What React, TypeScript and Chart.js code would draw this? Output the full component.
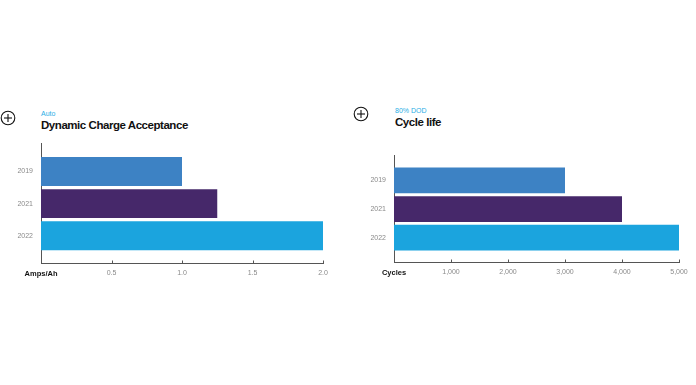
import React, { useEffect, useRef } from "react";
import { Chart, registerables } from "chart.js";

Chart.register(...registerables);

const years = ["2019", "2021", "2022"];
const chargeAcceptance = [1.0, 1.25, 2.0];
const cycleLife = [3000, 4000, 5000];
const barColors = ["#3d82c4", "#46286a", "#1ba4de"];
const leftXTicks = [0, 0.5, 1.0, 1.5, 2.0];
const rightXTicks = [0, 1000, 2000, 3000, 4000, 5000];

const FONT = "'Liberation Sans', Arial, Helvetica, sans-serif";
const AXIS_COLOR = "#555555";
const TICK_COLOR = "#8a8a8a";

const tickMarks = {
  id: "tickMarks",
  afterDraw(chart: any) {
    const xs = chart.scales.x;
    const bottom = chart.chartArea.bottom;
    const ctx = chart.ctx;
    ctx.save();
    ctx.strokeStyle = AXIS_COLOR;
    ctx.lineWidth = 1;
    xs.ticks.forEach((t: any) => {
      if (t.value === 0) return;
      const px = Math.round(xs.getPixelForValue(t.value)) + 0.5;
      ctx.beginPath();
      ctx.moveTo(px, bottom - 2.5);
      ctx.lineTo(px, bottom);
      ctx.stroke();
    });
    ctx.restore();
  },
};

type PanelProps = {
  values: number[];
  xMax: number;
  xTicks: number[];
  unitLabel: string;
  fmt: (v: number) => string;
  width: number;
  height: number;
  padTop: number;
  padRight: number;
  yAxisWidth: number;
  xAxisHeight: number;
};

function BarPanel(p: PanelProps) {
  const ref = useRef<HTMLCanvasElement>(null);
  useEffect(() => {
    if (!ref.current) return;
    const chart = new Chart(ref.current, {
      type: "bar",
      data: {
        datasets: [
          {
            data: p.values.map((v, i) => ({ x: v, y: i })) as any,
            backgroundColor: barColors,
            borderWidth: 0,
            barPercentage: 0.9,
            categoryPercentage: 1,
          },
        ],
      },
      options: {
        indexAxis: "y",
        responsive: false,
        animation: false,
        events: [],
        layout: { padding: { top: p.padTop, right: p.padRight, left: 0, bottom: 0 } },
        plugins: { legend: { display: false }, tooltip: { enabled: false } },
        scales: {
          x: {
            type: "linear",
            min: 0,
            max: p.xMax,
            offset: false,
            grid: { display: false, drawTicks: false },
            border: { display: true, color: AXIS_COLOR, width: 1 },
            afterBuildTicks: (s: any) => {
              s.ticks = p.xTicks.map((v) => ({ value: v }));
            },
            afterFit: (s: any) => {
              s.height = p.xAxisHeight;
            },
            ticks: {
              padding: 6,
              maxRotation: 0,
              autoSkip: false,
              callback: (v: any) => (Number(v) === 0 ? p.unitLabel : p.fmt(Number(v))),
              color: (ctx: any) => (ctx.tick && ctx.tick.value === 0 ? "#111111" : TICK_COLOR),
              font: (ctx: any) =>
                ctx.tick && ctx.tick.value === 0
                  ? { family: FONT, size: 7.5, weight: "bold" }
                  : { family: FONT, size: 7, weight: "normal" },
            },
          },
          y: {
            type: "linear",
            min: -0.89,
            max: 2.85,
            reverse: true,
            offset: false,
            grid: { display: false, drawTicks: false, offset: false },
            border: { display: true, color: AXIS_COLOR, width: 1 },
            afterBuildTicks: (s: any) => {
              s.ticks = years.map((_, i) => ({ value: i }));
            },
            afterFit: (s: any) => {
              s.width = p.yAxisWidth;
            },
            ticks: {
              padding: 8,
              autoSkip: false,
              callback: (v: any) => years[Number(v)] ?? "",
              color: TICK_COLOR,
              font: { family: FONT, size: 7 },
            },
          },
        },
      },
      plugins: [tickMarks],
    });
    return () => chart.destroy();
  }, []);
  return <canvas ref={ref} width={p.width} height={p.height} style={{ width: p.width, height: p.height, display: "block" }} />;
}

function PlusIcon({ cx, cy }: { cx: number; cy: number }) {
  return (
    <svg width={18} height={18} style={{ position: "absolute", left: cx - 9, top: cy - 9 }}>
      <circle cx={9} cy={9} r={6.8} fill="none" stroke="#111" strokeWidth={1.1} />
      <line x1={5} y1={9} x2={13} y2={9} stroke="#111" strokeWidth={1.1} />
      <line x1={9} y1={5} x2={9} y2={13} stroke="#111" strokeWidth={1.1} />
    </svg>
  );
}

const subStyle: React.CSSProperties = {
  position: "absolute",
  fontFamily: FONT,
  fontSize: 7,
  lineHeight: "7px",
  color: "#2aaee6",
  whiteSpace: "nowrap",
};
const titleStyle: React.CSSProperties = {
  position: "absolute",
  fontFamily: FONT,
  fontSize: 11.5,
  lineHeight: "11.5px",
  fontWeight: "bold",
  letterSpacing: "-0.45px",
  color: "#111",
  whiteSpace: "nowrap",
};

export default function App() {
  return (
    <div style={{ position: "fixed", left: 0, top: 0, width: 696, height: 385, background: "#fff", overflow: "hidden" }}>
      <PlusIcon cx={8} cy={117.5} />
      <div style={{ ...subStyle, left: 41, top: 109.8 }}>Auto</div>
      <div style={{ ...titleStyle, left: 41, top: 119.6 }}>Dynamic Charge Acceptance</div>
      <div style={{ position: "absolute", left: 0, top: 130 }}>
        <BarPanel
          values={chargeAcceptance}
          xMax={2}
          xTicks={leftXTicks}
          unitLabel="Amps/Ah"
          fmt={(v) => v.toFixed(1)}
          width={345}
          height={160}
          padTop={13}
          padRight={22}
          yAxisWidth={41}
          xAxisHeight={27}
        />
      </div>

      <PlusIcon cx={361.3} cy={114.3} />
      <div style={{ ...subStyle, left: 395, top: 107.4 }}>80% DOD</div>
      <div style={{ ...titleStyle, left: 395, top: 117.3 }}>Cycle life</div>
      <div style={{ position: "absolute", left: 350, top: 140 }}>
        <BarPanel
          values={cycleLife}
          xMax={5000}
          xTicks={rightXTicks}
          unitLabel="Cycles"
          fmt={(v) => v.toLocaleString("en-US")}
          width={345}
          height={150}
          padTop={15}
          padRight={16}
          yAxisWidth={44}
          xAxisHeight={28}
        />
      </div>
    </div>
  );
}
